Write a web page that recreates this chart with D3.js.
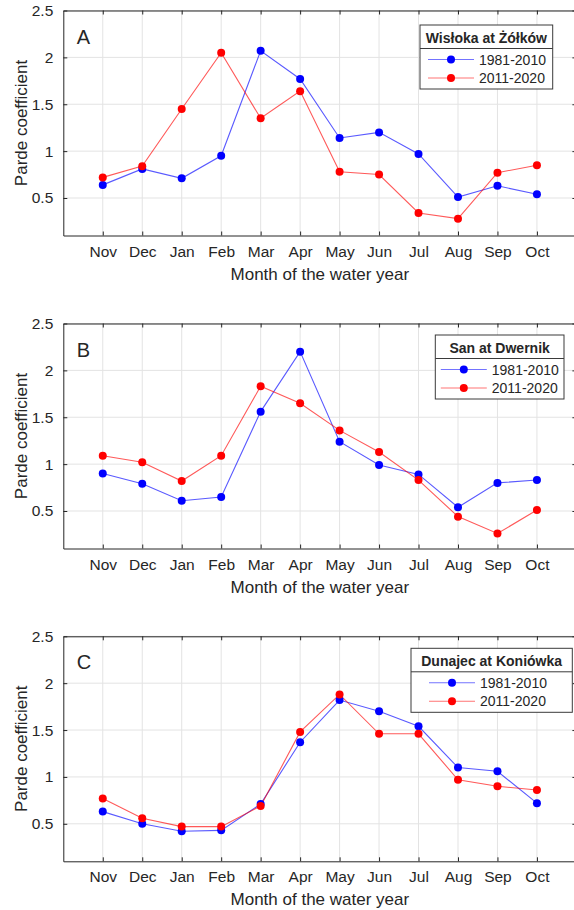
<!DOCTYPE html>
<html>
<head>
<meta charset="utf-8">
<script src="https://cdn.jsdelivr.net/npm/d3@7"></script>
<style>
  body { margin: 0; background: #fff; }
  text { font-family: "Liberation Sans", Arial, sans-serif; fill: #262626; }
</style>
</head>
<body>
<div id="chart"></div>
<script>
// Data
const months = ["Nov", "Dec", "Jan", "Feb", "Mar", "Apr", "May", "Jun", "Jul", "Aug", "Sep", "Oct"];
const yTicks = [0.5, 1, 1.5, 2, 2.5];
const seriesNames = ["1981-2010", "2011-2020"];
const stations = ["Wisłoka at Żółków", "San at Dwernik", "Dunajec at Koniówka"];
const panelLetters = ["A", "B", "C"];

const wislokaOld = [0.64, 0.81, 0.71, 0.95, 2.07, 1.77, 1.14, 1.20, 0.97, 0.51, 0.63, 0.54];
const wislokaNew = [0.72, 0.84, 1.45, 2.05, 1.35, 1.64, 0.78, 0.75, 0.34, 0.28, 0.77, 0.85];
const sanOld = [0.90, 0.79, 0.61, 0.65, 1.56, 2.20, 1.24, 0.99, 0.89, 0.54, 0.80, 0.83];
const sanNew = [1.09, 1.02, 0.82, 1.09, 1.83, 1.65, 1.36, 1.13, 0.83, 0.44, 0.26, 0.51];
const dunajecOld = [0.63, 0.50, 0.42, 0.43, 0.71, 1.37, 1.82, 1.70, 1.54, 1.10, 1.06, 0.72];
const dunajecNew = [0.77, 0.56, 0.47, 0.47, 0.69, 1.48, 1.88, 1.46, 1.46, 0.97, 0.90, 0.86];

const panelSeries = [
    [wislokaOld, wislokaNew],
    [sanOld, sanNew],
    [dunajecOld, dunajecNew]
];

// Layout
const W = 574, H = 910;
const left = 63.3, plotW = 513.1, plotH = 225;
const panelTops = [10.5, 323.5, 636.3];
const legendBoxes = [
    { x0: 420, x1: 552.7, top: 14.5, dx: 8 },
    { x0: 435.3, x1: 564, top: 11.5, dx: 5.5 },
    { x0: 411, x1: 572.3, top: 12, dx: 18 }
];
const colors = ["#0000ff", "#ff0000"];
const axisColor = "#262626";

const svg = d3.select("#chart")
    .append("svg")
    .attr("width", W)
    .attr("height", H);

const x = d3.scaleLinear().domain([0, 13]).range([0, plotW]);
const y = d3.scaleLinear().domain([0.1, 2.5]).range([plotH, 0]);

panelSeries.forEach((series, p) => {
    const g = svg.append("g")
        .attr("transform", `translate(${left},${panelTops[p]})`);

    // grid
    g.append("g").selectAll("line.v")
        .data(months)
        .join("line")
        .attr("x1", (d, i) => x(i + 1)).attr("x2", (d, i) => x(i + 1))
        .attr("y1", 0).attr("y2", plotH)
        .attr("stroke", "#e3e3e3").attr("stroke-width", 1);

    g.append("g").selectAll("line.h")
        .data(yTicks)
        .join("line")
        .attr("x1", 0).attr("x2", plotW)
        .attr("y1", d => y(d)).attr("y2", d => y(d))
        .attr("stroke", "#e3e3e3").attr("stroke-width", 1);

    // axes (MATLAB style, ticks inward, box on)
    const xAxis = d3.axisBottom(x)
        .tickValues(d3.range(1, 13))
        .tickFormat(d => months[d - 1])
        .tickSizeInner(-4).tickSizeOuter(0).tickPadding(10);
    const gx = g.append("g").attr("transform", `translate(0,${plotH})`).call(xAxis);

    const yAxis = d3.axisLeft(y)
        .tickValues(yTicks)
        .tickFormat(d => d3.format("")(d))
        .tickSizeInner(-4).tickSizeOuter(0).tickPadding(10);
    const gy = g.append("g").call(yAxis);

    const gTop = g.append("g").call(d3.axisTop(x).tickValues(d3.range(1, 13)).tickFormat("").tickSizeInner(-4).tickSizeOuter(0));
    const gRight = g.append("g").attr("transform", `translate(${plotW},0)`)
        .call(d3.axisRight(y).tickValues(yTicks).tickFormat("").tickSizeInner(-4).tickSizeOuter(0));

    [gx, gy, gTop, gRight].forEach(a => {
        a.select(".domain").attr("stroke", axisColor);
        a.selectAll(".tick line").attr("stroke", axisColor);
        a.selectAll(".tick text")
            .attr("fill", axisColor)
            .style("font-size", "15.5px")
            .style("font-family", '"Liberation Sans", Arial, sans-serif');
    });
    gx.selectAll(".tick text").attr("dy", "0.71em");

    // axis labels
    g.append("text")
        .attr("x", plotW / 2)
        .attr("y", plotH + 44)
        .attr("text-anchor", "middle")
        .style("font-size", "17px")
        .text("Month of the water year");

    g.append("text")
        .attr("transform", `translate(${27 - left},${plotH / 2}) rotate(-90)`)
        .attr("text-anchor", "middle")
        .style("font-size", "17px")
        .text("Parde coefficient");

    // panel letter
    g.append("text")
        .attr("x", 13.4)
        .attr("y", 33)
        .style("font-size", "20px")
        .text(panelLetters[p]);

    // lines and markers
    const line = d3.line()
        .x((d, i) => x(i + 1))
        .y(d => y(d));

    series.forEach((vals, s) => {
        g.append("path")
            .datum(vals)
            .attr("fill", "none")
            .attr("stroke", colors[s])
            .attr("stroke-opacity", 0.65)
            .attr("stroke-width", 1.1)
            .attr("d", line);
    });
    series.forEach((vals, s) => {
        g.append("g").selectAll("circle")
            .data(vals)
            .join("circle")
            .attr("cx", (d, i) => x(i + 1))
            .attr("cy", d => y(d))
            .attr("r", 4)
            .attr("fill", colors[s]);
    });

    // legend
    const lb = legendBoxes[p];
    const lg = svg.append("g")
        .attr("transform", `translate(${lb.x0},${panelTops[p] + lb.top})`);
    const bw = lb.x1 - lb.x0, bh = 64;
    lg.append("rect")
        .attr("width", bw).attr("height", bh)
        .attr("fill", "#fff")
        .attr("stroke", "#3a3a3a").attr("stroke-width", 1);
    lg.append("line")
        .attr("x1", 0).attr("x2", bw)
        .attr("y1", 23.5).attr("y2", 23.5)
        .attr("stroke", "#3a3a3a").attr("stroke-width", 1);
    lg.append("text")
        .attr("x", bw / 2).attr("y", 12.5)
        .attr("dy", "0.36em")
        .attr("text-anchor", "middle")
        .style("font-size", "14px")
        .style("font-weight", "bold")
        .attr("fill", "#000")
        .text(stations[p]);

    seriesNames.forEach((name, s) => {
        const ey = s === 0 ? 34.5 : 53;
        const e = lg.append("g").attr("transform", `translate(${lb.dx},${ey})`);
        e.append("line")
            .attr("x1", 0).attr("x2", 46)
            .attr("stroke", colors[s])
            .attr("stroke-opacity", 0.55)
            .attr("stroke-width", 1.1);
        e.append("circle").attr("cx", 23).attr("r", 4).attr("fill", colors[s]);
        e.append("text")
            .attr("x", 51).attr("dy", "0.36em")
            .style("font-size", "14px")
            .text(name);
    });
});
</script>
</body>
</html>
